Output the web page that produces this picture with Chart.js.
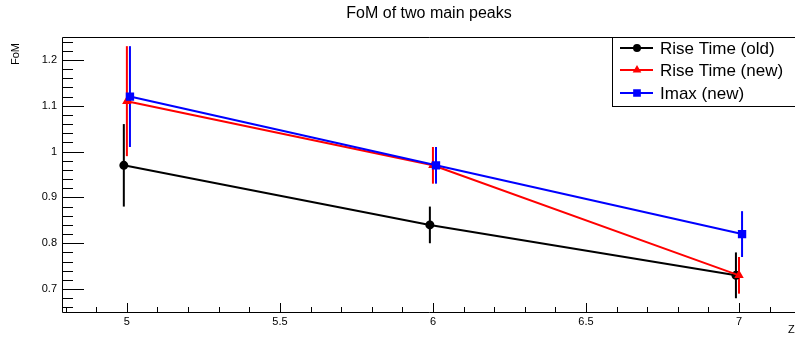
<!DOCTYPE html>
<html>
<head>
<meta charset="utf-8">
<script src="https://cdn.jsdelivr.net/npm/chart.js@4.4.0/dist/chart.umd.min.js"></script>
<style>
  html, body { margin: 0; padding: 0; background: #fff; overflow: hidden; }
  #wrap { width: 795px; height: 339px; }
</style>
</head>
<body>
<div id="wrap"><canvas id="fomChart" width="795" height="339"></canvas></div>
<script>
// data
var zOld = [4.99, 5.99, 6.99];
var zNew = [5.0, 6.0, 7.0];
var zImax = [5.01, 6.01, 7.01];
var fomOld = [0.97, 0.84, 0.73];
var errOld = [0.09, 0.04, 0.05];
var fomNew = [1.11, 0.97, 0.73];
var errNew = [0.12, 0.04, 0.04];
var fomImax = [1.12, 0.97, 0.82];
var errImax = [0.11, 0.04, 0.05];
var seriesNames = ['Rise Time (old)', 'Rise Time (new)', 'Imax (new)'];
var xTicks = [5, 5.5, 6, 6.5, 7];
var yTicks = [0.7, 0.8, 0.9, 1, 1.1, 1.2];

function toPoints(xs, ys, errs) {
    return xs.map(function (x, i) { return { x: x, y: ys[i], err: errs[i] }; });
}

var FONT = '"Liberation Sans", Arial, Helvetica, sans-serif';

// ROOT style frame, ticks inside, labels, error bars and legend
var rootStyle = {
    id: 'rootStyle',
    beforeDatasetsDraw: function (chart) {
        var ctx = chart.ctx;
        var xs = chart.scales.x, ys = chart.scales.y;
        ctx.save();
        chart.data.datasets.forEach(function (ds) {
            ctx.strokeStyle = ds.borderColor;
            ctx.lineWidth = 2;
            ds.data.forEach(function (p) {
                var px = xs.getPixelForValue(p.x);
                ctx.beginPath();
                ctx.moveTo(px, ys.getPixelForValue(p.y - p.err));
                ctx.lineTo(px, ys.getPixelForValue(p.y + p.err));
                ctx.stroke();
            });
        });
        ctx.restore();
    },
    afterDraw: function (chart) {
        var ctx = chart.ctx;
        var a = chart.chartArea;
        var xs = chart.scales.x, ys = chart.scales.y;
        ctx.save();
        ctx.strokeStyle = '#000';
        ctx.fillStyle = '#000';
        ctx.lineWidth = 1;

        // frame (right side falls outside the canvas)
        ctx.beginPath();
        ctx.moveTo(a.right + 10, a.top + 0.5);
        ctx.lineTo(a.left + 0.5, a.top + 0.5);
        ctx.lineTo(a.left + 0.5, a.bottom + 0.5);
        ctx.lineTo(a.right + 10, a.bottom + 0.5);
        ctx.stroke();

        // y ticks (minor every 0.02)
        ctx.beginPath();
        for (var v = 0.66; v <= 1.25; v += 0.02) {
            var py = Math.round(ys.getPixelForValue(v)) + 0.5;
            var major = Math.abs(v * 10 - Math.round(v * 10)) < 1e-6;
            ctx.moveTo(a.left, py);
            ctx.lineTo(a.left + (major ? 22 : 11), py);
        }
        // x ticks (minor every 0.1)
        for (var u = 4.8; u <= 7.15; u += 0.1) {
            var px = Math.round(xs.getPixelForValue(u)) + 0.5;
            var maj = Math.abs(u * 2 - Math.round(u * 2)) < 1e-6;
            ctx.moveTo(px, a.bottom);
            ctx.lineTo(px, a.bottom - (maj ? 9 : 5));
        }
        ctx.stroke();

        // tick labels
        ctx.font = '11px ' + FONT;
        ctx.textAlign = 'right';
        ctx.textBaseline = 'middle';
        yTicks.forEach(function (t) {
            ctx.fillText(String(t), a.left - 5, ys.getPixelForValue(t));
        });
        ctx.textAlign = 'center';
        ctx.textBaseline = 'top';
        xTicks.forEach(function (t) {
            ctx.fillText(String(t), xs.getPixelForValue(t), a.bottom + 4);
        });

        // axis titles
        ctx.font = '11px ' + FONT;
        ctx.textAlign = 'left';
        ctx.textBaseline = 'top';
        ctx.fillText('Z', 788, 324);
        ctx.save();
        ctx.translate(10, a.top + 6);
        ctx.rotate(-Math.PI / 2);
        ctx.textAlign = 'right';
        ctx.textBaseline = 'top';
        ctx.fillText('FoM', 0, 0);
        ctx.restore();

        // title (the original pad is wider than the window, so it sits right of centre)
        ctx.font = '16px ' + FONT;
        ctx.textAlign = 'center';
        ctx.textBaseline = 'middle';
        ctx.fillText('FoM of two main peaks', 429, 14);

        // legend
        ctx.fillStyle = '#fff';
        ctx.fillRect(612, 37, 190, 69);
        ctx.strokeStyle = '#000';
        ctx.lineWidth = 1;
        ctx.strokeRect(612.5, 37.5, 190, 69);
        var rowsY = [48, 70, 93];
        chart.data.datasets.forEach(function (ds, i) {
            var y = rowsY[i];
            ctx.strokeStyle = ds.borderColor;
            ctx.fillStyle = ds.borderColor;
            ctx.lineWidth = 2;
            ctx.beginPath();
            ctx.moveTo(620, y);
            ctx.lineTo(653, y);
            ctx.stroke();
            Chart.helpers.drawPoint(ctx, {
                pointStyle: ds.pointStyle,
                radius: ds.pointRadius - 0.5,
                borderWidth: 1
            }, 637, y);
            ctx.fillStyle = '#000';
            ctx.font = '17px ' + FONT;
            ctx.textAlign = 'left';
            ctx.textBaseline = 'middle';
            ctx.fillText(seriesNames[i], 660, y + 1);
        });
        ctx.restore();
    }
};

function makeSet(label, pts, color, style, radius, order) {
    return {
        label: label,
        data: pts,
        showLine: true,
        borderColor: color,
        backgroundColor: color,
        pointBackgroundColor: color,
        pointBorderColor: color,
        borderWidth: 2,
        pointStyle: style,
        pointRadius: radius,
        pointHoverRadius: radius,
        order: order
    };
}

var ctx = document.getElementById('fomChart').getContext('2d');
var fomChart = new Chart(ctx, {
    type: 'scatter',
    data: {
        datasets: [
            makeSet(seriesNames[0], toPoints(zOld, fomOld, errOld), '#000000', 'circle', 3.5, 3),
            makeSet(seriesNames[1], toPoints(zNew, fomNew, errNew), '#ff0000', 'triangle', 3.5, 2),
            makeSet(seriesNames[2], toPoints(zImax, fomImax, errImax), '#0000ff', 'rect', 4.5, 1)
        ]
    },
    options: {
        responsive: false,
        animation: false,
        events: [],
        layout: { autoPadding: false, padding: { left: 62, top: 37, right: 0, bottom: 27 } },
        plugins: {
            legend: { display: false },
            title: { display: false },
            tooltip: { enabled: false }
        },
        scales: {
            x: { type: 'linear', display: false, min: 4.788, max: 7.183 },
            y: { type: 'linear', display: false, min: 0.65, max: 1.25 }
        }
    },
    plugins: [rootStyle]
});
</script>
</body>
</html>
